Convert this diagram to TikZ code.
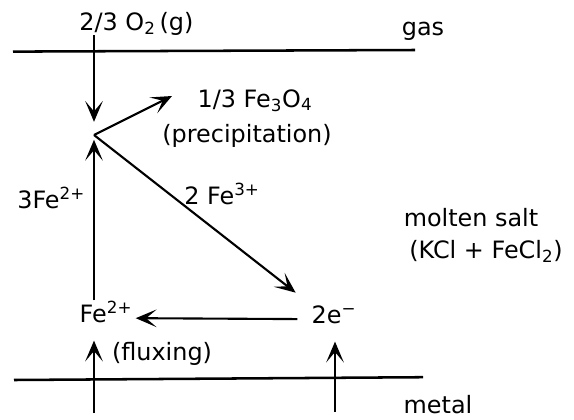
\documentclass[tikz,border=0pt]{standalone}
\usepackage{fontspec}
\setmainfont{DejaVu Sans}
\usetikzlibrary{arrows.meta}
\tikzset{
  interface/.style={line width=1.8pt},
  flow/.style={line width=1.5pt, -{Stealth[length=5.2mm, width=4.4mm, inset=2.6mm]}},
  lbl/.style={font=\fontsize{17}{20}\selectfont, anchor=base, inner sep=0pt}
}

\begin{document}
\begin{tikzpicture}
  \useasboundingbox (0,0) rectangle (14.35,-10.475);

  % ---- Phase boundaries ----------------------------------------------------
  \draw[interface] (0.325,-1.29) -- (10.375,-1.25);
  \draw[interface] (0.35,-9.5) -- (10.575,-9.43);

  % ---- Phase names ---------------------------------------------------------
  \node[lbl] (gas)   at (10.575,-0.875) {gas};
  \node[lbl] (salt)  at (11.775,-5.65)  {molten salt};
  \node[lbl] (melt)  at (12.15,-6.45)   {(KCl + FeCl\textsubscript{2})};
  \node[lbl] (metal) at (10.95,-10.325) {metal};

  % ---- Species -------------------------------------------------------------
  \node[lbl] (o2)     at (3.41,-0.75)   {2/3 O\textsubscript{2}\,(g)};
  \node[lbl] (fe3o4)  at (6.375,-2.675) {1/3 Fe\textsubscript{3}O\textsubscript{4}};
  \node[lbl] (precip) at (6.175,-3.55)  {(precipitation)};
  \node[lbl] (feup)   at (1.28,-5.2)    {3Fe\textsuperscript{2+}};
  \node[lbl] (fediag) at (5.55,-5.1)    {2 Fe\textsuperscript{3+}};
  \node[lbl] (fe2)    at (2.65,-8.05)   {Fe\textsuperscript{2+}};
  \node[lbl] (e2)     at (8.35,-8.075)  {2e\textsuperscript{−}};
  \node[lbl] (flux)   at (4.05,-9.0)    {(fluxing)};

  % ---- Free ends -----------------------------------------------------------
  \coordinate (jn) at (2.35,-3.375);
  \coordinate (ox) at (4.3,-2.4);
  \coordinate (m1) at (2.35,-10.33);
  \coordinate (m2) at (8.375,-10.3);

  % ---- Reaction paths ------------------------------------------------------
  \draw[flow, shorten >=0.33cm] (o2.south -| jn) -- (jn);
  \draw[flow] (jn) -- (ox);
  \draw[flow, shorten >=0.12cm] (fe2.north -| jn) -- (jn);
  \draw[flow, shorten >=0.5cm] (jn) -- (e2.north west);
  \draw[flow, shorten <=0.35cm, shorten >=0.08cm] (e2.mid west) -- (fe2.mid east);
  \draw[flow, shorten >=0.45cm] (m1) -- (fe2.south -| m1);
  \draw[flow, shorten >=0.45cm] (m2) -- (e2.south -| m2);

\end{tikzpicture}
\end{document}
